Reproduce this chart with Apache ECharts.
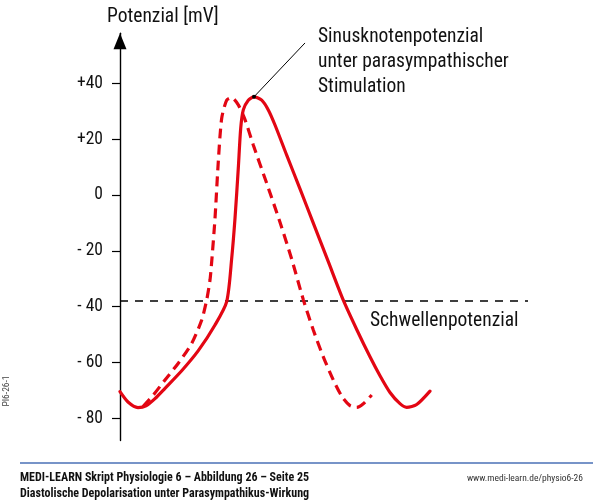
<!DOCTYPE html>
<html>
<head>
<meta charset="utf-8">
<script src="https://cdn.jsdelivr.net/npm/echarts@6/dist/echarts.min.js"></script>
<style>
html,body{margin:0;padding:0;background:#fff;}
#c{width:600px;height:502px;}
</style>
</head>
<body>
<div id="c"></div>
<script>
// y-axis ticks (mV) and their printed labels
var yTicks = [-80, -60, -40, -20, 0, 20, 40];
var yTickLabels = ['- 80', '- 60', '- 40', '- 20', '0', '+20', '+40'];
// threshold potential (mV) and its extent in time units
var thresholdValue = -38;
var thresholdSpan = [0, 408];
// Sinus node potential under parasympathetic stimulation: [time, mV]
var solidPotential = [
  [0,-70.5],[8,-74.2],[18,-76.2],[26,-75.6],[35,-73],[45,-69.3],[61.7,-63],[78.3,-55.8],[95,-46.6],[106.7,-38.2],
  [111.7,-22.7],[115,-8.4],[118.3,9.6],[120.7,23.9],[123.3,30.5],[128.3,34],[134,35.2],[141.7,34],[148.3,30.5],
  [155,25.1],[166.7,14.3],[180,2.2],[193.3,-10.1],[208.3,-23.9],[223.3,-37.7],[236.7,-48.2],[250,-58],[260,-64.8],
  [270,-70.8],[280,-74.8],[286.7,-76.1],[296.7,-75.1],[310,-70.3]
];
// normal sinus node potential (dashed): [time, mV]
var dashedPotential = [
  [23,-75.8],[33.3,-71.7],[45,-66.3],[58.3,-60.3],[71.7,-53.2],[81.7,-44.8],[86.7,-37.6],[90,-30.5],[91.7,-23.9],
  [95,-8.4],[98.3,12],[101.7,27.5],[106.7,34],[111.7,34.9],[118.3,32.3],[125,27],[133.3,17.9],[146.7,4.2],
  [160,-9.8],[171.7,-23],[183.3,-37.5],[193.3,-48.4],[203.3,-58],[213.3,-66.3],[221.7,-72.1],[230,-75.5],
  [236.7,-76.1],[243.3,-74.8],[251.7,-71.7]
];
// leader line from the solid peak to the annotation
var leaderLine = [[134,35.2],[185,54.5]];

var RED = '#e30613';
var COND = 'normal condensed ';
var FAM = 'Roboto, "DejaVu Sans Condensed", sans-serif';

var chart = echarts.init(document.getElementById('c'), null, {renderer:'canvas'});
var thresholdData = thresholdSpan.map(function(t){ return [t, thresholdValue]; });

chart.setOption({
  animation: false,
  backgroundColor: '#fff',
  grid: { left: 120, right: 60, top: 33.2, bottom: 61.5, containLabel: false, outerBoundsMode: 'none' },
  xAxis: { type: 'value', min: 0, max: 420, show: false },
  yAxis: {
    type: 'value', min: -88, max: 58,
    splitLine: { show: false },
    axisLine: { show: true, onZero: false, lineStyle: { color: '#000', width: 1.4 },
      symbol: ['none', 'triangle'], symbolSize: [13, 16], symbolOffset: [0, -8] },
    axisTick: { show: true, length: 8, lineStyle: { color: '#000', width: 1.2 }, customValues: yTicks },
    axisLabel: { show: true, margin: 17, color: '#111', fontSize: 17.5, fontStyle: 'normal', fontWeight: 'condensed',
      fontFamily: FAM,
      customValues: yTicks,
      formatter: function(v){ var i = yTicks.indexOf(v); return i >= 0 ? yTickLabels[i] : ''; } }
  },
  series: [
    { type: 'line', data: thresholdData, symbol: 'none', silent: true,
      lineStyle: { color: '#000', width: 1.4, type: [8, 7] }, z: 1 },
    { type: 'line', data: solidPotential, symbol: 'none', smooth: 0.25, silent: true,
      lineStyle: { color: RED, width: 3.2, cap: 'round', join: 'round' }, z: 3 },
    { type: 'line', data: dashedPotential, symbol: 'none', smooth: 0.25, silent: true,
      lineStyle: { color: RED, width: 3.2, type: [10, 6] }, z: 2 },
    { type: 'line', data: leaderLine, silent: true, symbol: 'circle', showSymbol: true,
      symbolSize: function(v, p){ return p.dataIndex === 0 ? 4 : 0; },
      itemStyle: { color: '#000' },
      lineStyle: { color: '#000', width: 1 }, z: 4 }
  ],
  graphic: [
    { type: 'text', x: 107, y: 17, style: { text: 'Potenzial [mV]', font: COND + '19.5px ' + FAM, fill: '#111', verticalAlign: 'middle' } },
    { type: 'text', x: 318, y: 37, style: { text: 'Sinusknotenpotenzial', font: COND + '19.5px ' + FAM, fill: '#111', verticalAlign: 'middle' } },
    { type: 'text', x: 318, y: 62, style: { text: 'unter parasympathischer', font: COND + '19.5px ' + FAM, fill: '#111', verticalAlign: 'middle' } },
    { type: 'text', x: 318, y: 87, style: { text: 'Stimulation', font: COND + '19.5px ' + FAM, fill: '#111', verticalAlign: 'middle' } },
    { type: 'text', x: 370, y: 321, style: { text: 'Schwellenpotenzial', font: COND + '19.5px ' + FAM, fill: '#111', verticalAlign: 'middle' } },
    { type: 'line', shape: { x1: 20, y1: 463, x2: 593, y2: 463 }, style: { stroke: '#4a70b6', lineWidth: 1.6 } },
    { type: 'text', x: 20, y: 478, style: { text: 'MEDI-LEARN Skript Physiologie 6 – Abbildung 26 – Seite 25', font: 'normal bold condensed 12px ' + FAM, fill: '#111', verticalAlign: 'middle' } },
    { type: 'text', x: 20, y: 493.5, style: { text: 'Diastolische Depolarisation unter Parasympathikus-Wirkung', font: 'normal bold condensed 12px ' + FAM, fill: '#111', verticalAlign: 'middle' } },
    { type: 'text', x: 583, y: 479, style: { text: 'www.medi-learn.de/physio6-26', font: COND + '9.5px ' + FAM, fill: '#333', align: 'right', verticalAlign: 'middle' } },
    { type: 'text', x: 7, y: 391, rotation: Math.PI / 2, style: { text: 'PI6-26-1', font: COND + '9.5px ' + FAM, fill: '#444', align: 'center', verticalAlign: 'middle' } }
  ]
});
</script>
</body>
</html>
